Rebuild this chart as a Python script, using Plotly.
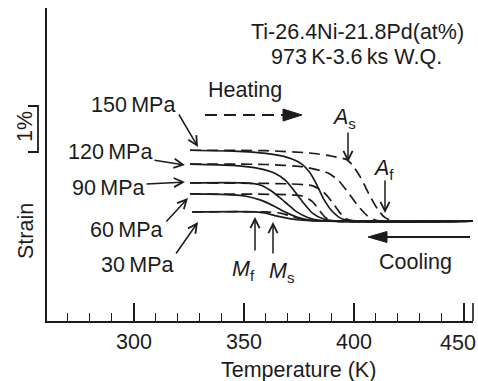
import plotly.graph_objects as go

# ---------------- data ----------------
stress_labels = ["150\u2009MPa", "120\u2009MPa", "90\u2009MPa", "60\u2009MPa", "30\u2009MPa"]

# cooling curves (solid): temperature (K) and strain (%) relative to austenite baseline
cool_T_150 = [325.5, 345, 360, 370, 376, 380, 383, 386, 390, 395, 454]
cool_s_150 = [1.54, 1.52, 1.47, 1.38, 1.25, 1.05, 0.80, 0.50, 0.22, 0.04, 0.0]
cool_T_120 = [325.5, 345, 357, 364, 369, 373, 377, 381, 386, 392, 454]
cool_s_120 = [1.24, 1.21, 1.14, 1.04, 0.88, 0.65, 0.40, 0.18, 0.05, 0.0, 0.0]
cool_T_90 = [325.5, 350, 357, 362, 366, 370, 374, 379, 385, 454]
cool_s_90 = [0.83, 0.83, 0.79, 0.67, 0.52, 0.36, 0.20, 0.08, 0.01, 0.0]
cool_T_60 = [325.5, 340, 351, 358, 364, 369, 374, 380, 454]
cool_s_60 = [0.59, 0.58, 0.54, 0.45, 0.32, 0.19, 0.09, 0.02, 0.0]
cool_T_30 = [326.5, 355, 360, 364, 369, 374, 380, 454]
cool_s_30 = [0.20, 0.20, 0.17, 0.12, 0.07, 0.03, 0.01, 0.0]

# heating curves (dashed)
heat_T_150 = [325.5, 360, 380, 390, 397, 400, 403, 407, 411, 414, 418, 454]
heat_s_150 = [1.54, 1.53, 1.48, 1.41, 1.33, 1.17, 0.95, 0.57, 0.24, 0.08, 0.0, 0.0]
heat_T_120 = [325.5, 360, 377, 388, 393, 398, 402, 406, 410, 454]
heat_s_120 = [1.24, 1.23, 1.18, 1.05, 0.88, 0.58, 0.32, 0.12, 0.02, 0.0]
heat_T_90 = [325.5, 370, 381, 386, 390, 393, 396, 400, 454]
heat_s_90 = [0.83, 0.81, 0.77, 0.64, 0.42, 0.22, 0.06, 0.0, 0.0]
heat_T_60 = [325.5, 365, 376, 381, 384, 387, 390, 454]
heat_s_60 = [0.59, 0.58, 0.55, 0.43, 0.25, 0.08, 0.01, 0.0]
heat_T_30 = [326.5, 360, 367, 372, 377, 382, 454]
heat_s_30 = [0.20, 0.20, 0.17, 0.10, 0.04, 0.01, 0.0]

x_tickvals = [300, 350, 400, 450]
x_ticktext = ["300", "350", "400", "450"]

cool_T = [cool_T_150, cool_T_120, cool_T_90, cool_T_60, cool_T_30]
cool_s = [cool_s_150, cool_s_120, cool_s_90, cool_s_60, cool_s_30]
heat_T = [heat_T_150, heat_T_120, heat_T_90, heat_T_60, heat_T_30]
heat_s = [heat_s_150, heat_s_120, heat_s_90, heat_s_60, heat_s_30]

# ---------------- layout geometry ----------------
W, H = 478, 381
ML, MR, MT, MB = 47, 5, 8, 60
X0, X1 = 260.5, 454.1
Y0, Y1 = -2.17, 4.63
INK = "#1c1c1c"
FONT = "Liberation Sans, Arial, sans-serif"
FS = 21.5
PW, PH = W - ML - MR, H - MT - MB


def tx(px):  # pixel x -> temperature
    return X0 + (px - ML) / PW * (X1 - X0)


def sy(py):  # pixel y -> strain
    return Y1 - (py - MT) / PH * (Y1 - Y0)


fig = go.Figure()

for T, s in zip(heat_T, heat_s):
    fig.add_trace(go.Scatter(x=T, y=s, mode="lines", line=dict(color=INK, width=1.7, dash="11px,6px", shape="spline", smoothing=0.6),
                             hoverinfo="skip", showlegend=False))
for T, s in zip(cool_T, cool_s):
    fig.add_trace(go.Scatter(x=T, y=s, mode="lines", line=dict(color=INK, width=1.7, shape="spline", smoothing=0.6),
                             hoverinfo="skip", showlegend=False))

shapes = []
# heating arrow (dashed with filled head)
shapes.append(dict(type="line", x0=tx(205), x1=tx(285), y0=sy(115), y1=sy(115), line=dict(color=INK, width=2, dash="12px,7px")))
shapes.append(dict(type="path", path=f"M {tx(283)},{sy(109)} L {tx(302)},{sy(115)} L {tx(283)},{sy(121)} Z",
                   fillcolor=INK, line=dict(color=INK, width=1)))
# cooling arrow (solid with filled head)
shapes.append(dict(type="line", x0=tx(470), x1=tx(385), y0=sy(237), y1=sy(237), line=dict(color=INK, width=2)))
shapes.append(dict(type="path", path=f"M {tx(387)},{sy(231.5)} L {tx(368)},{sy(237)} L {tx(387)},{sy(242.5)} Z",
                   fillcolor=INK, line=dict(color=INK, width=1)))
# 1 % bracket
shapes.append(dict(type="path", xref="paper", yref="y",
                   path=f"M {(28-ML)/PW},{sy(106)} L {(38-ML)/PW},{sy(106)} L {(38-ML)/PW},{sy(152)} L {(28-ML)/PW},{sy(152)}",
                   line=dict(color=INK, width=1.8)))
# tick at right end of the axis
shapes.append(dict(type="line", xref="paper", yref="paper", x0=1, x1=1, y0=0, y1=18/PH, line=dict(color=INK, width=1.6)))

annotations = []


def text(px, py, t, size=FS, angle=0):
    annotations.append(dict(x=tx(px), y=sy(py), text=t, showarrow=False, xanchor="center", yanchor="middle",
                            textangle=angle, font=dict(size=size, color=INK, family=FONT)))


def arrow(tipx, tipy, tailx, taily):
    annotations.append(dict(x=tx(tipx), y=sy(tipy), ax=tailx - tipx, ay=taily - tipy, text="", showarrow=True,
                            arrowhead=5, arrowsize=1.2, arrowwidth=1.5, arrowcolor=INK))


text(357, 32, "Ti-26.4Ni-21.8Pd(at%)")
text(356, 57, "973\u2009K-3.6\u2009ks W.Q.")
text(245, 90, "Heating")
text(415, 262, "Cooling")
label_pos = [(133, 105), (110, 152), (108, 188), (126, 230), (137, 265)]
for (px, py), lab in zip(label_pos, stress_labels):
    text(px, py, lab)
arrow(198, 147, 178, 113)
arrow(185, 165, 153, 160)
arrow(185, 182, 145, 184)
arrow(188, 198, 165, 223)
arrow(198, 222, 175, 255)

text(344, 118, "<i>A</i><sub>s</sub>")
arrow(348, 162, 348, 131)
text(383, 169, "<i>A</i><sub>f</sub>")
arrow(385, 213, 385, 179)
text(243, 270, "<i>M</i><sub>f</sub>")
arrow(255, 217, 255, 252)
text(281, 272, "<i>M</i><sub>s</sub>")
arrow(273, 222, 273, 255)

# last tick label drawn as text so it is not clipped at the right edge
annotations.append(dict(x=tx(458), y=0, yref="paper", yanchor="top", yshift=-8, text=x_ticktext[-1], showarrow=False,
                        xanchor="center", font=dict(size=FS, color=INK, family=FONT)))

annotations.append(dict(x=(26-ML)/PW, xref="paper", y=sy(231), text="Strain", showarrow=False, textangle=-90,
                        xanchor="center", yanchor="middle", font=dict(size=FS, color=INK, family=FONT)))
annotations.append(dict(x=(25-ML)/PW, xref="paper", y=sy(127), text="1%", showarrow=False, textangle=-90,
                        xanchor="center", yanchor="middle", font=dict(size=FS, color=INK, family=FONT)))
annotations.append(dict(x=(298-ML)/PW, xref="paper", y=(MT+PH-370)/PH, yref="paper", text="Temperature (K)", showarrow=False,
                        xanchor="center", yanchor="middle", font=dict(size=FS, color=INK, family=FONT)))

fig.update_layout(
    width=W, height=H, margin=dict(l=ML, r=MR, t=MT, b=MB, autoexpand=False),
    paper_bgcolor="white", plot_bgcolor="white",
    shapes=shapes, annotations=annotations, showlegend=False,
    xaxis=dict(range=[X0, X1], showgrid=False, zeroline=False, showline=True, linecolor=INK, linewidth=2,
               ticks="inside", ticklen=18, tickwidth=1.6, tickcolor=INK,
               tickvals=x_tickvals, ticktext=x_ticktext[:-1] + [""],
               tickfont=dict(size=FS, color=INK, family=FONT), ticklabelstandoff=0,
               minor=dict(ticks="inside", ticklen=8, tickwidth=1.4, tickcolor=INK, dtick=10, showgrid=False)),
    yaxis=dict(range=[Y0, Y1], showgrid=False, zeroline=False, showline=True, linecolor=INK, linewidth=2,
               showticklabels=False, ticks=""),
)

fig.write_html("out.html")
